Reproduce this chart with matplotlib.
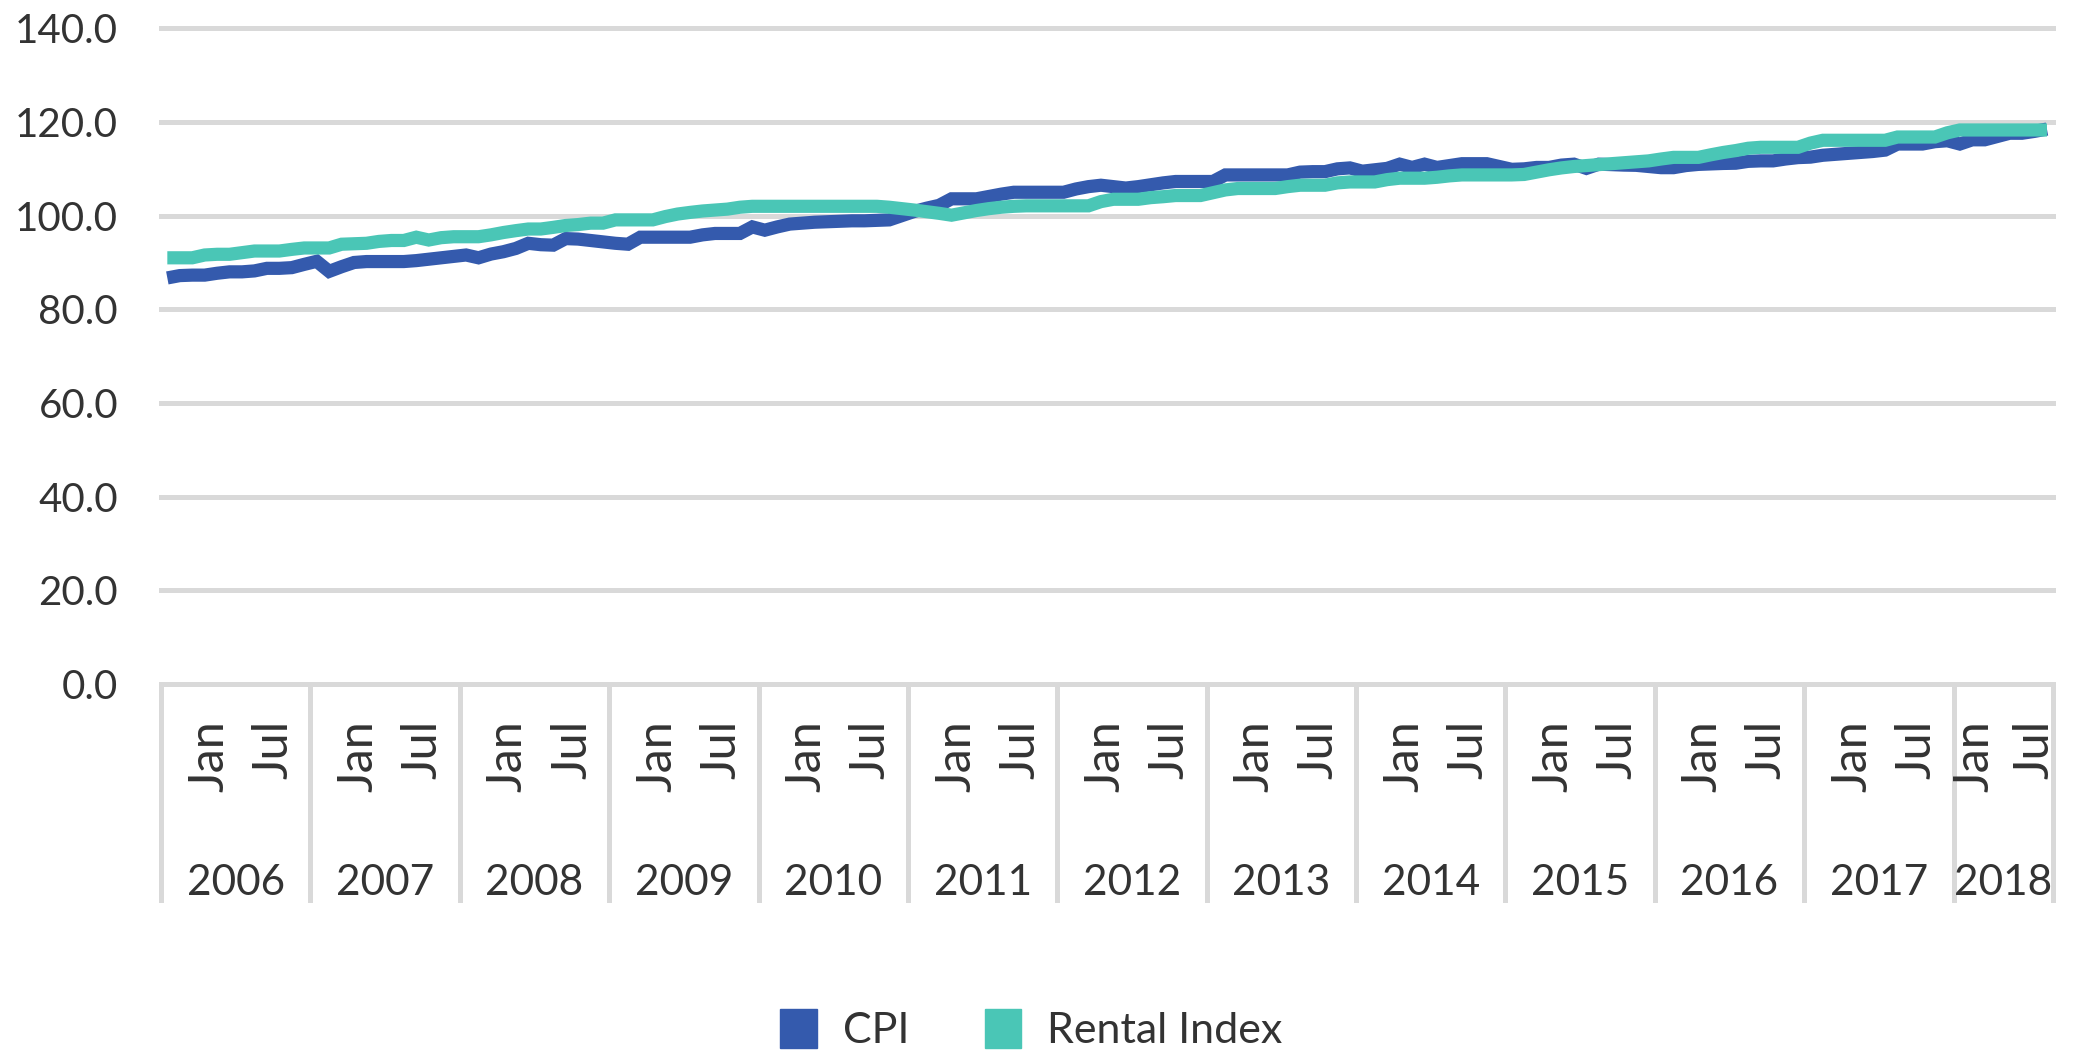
import numpy as np
import matplotlib
matplotlib.use('Agg')
import matplotlib.pyplot as plt
import matplotlib.transforms as mtransforms
from matplotlib.patches import Patch

plt.rcParams['font.family'] = ['Lato', 'DejaVu Sans']

# monthly index values, Jan 2006 .. Aug 2018
years = ['2006', '2007', '2008', '2009', '2010', '2011', '2012',
         '2013', '2014', '2015', '2016', '2017', '2018']
months_per_year = [12] * 12 + [8]

cpi = [
    86.7, 87.2, 87.3, 87.3, 87.7, 88.0, 88.0, 88.2, 88.75, 88.75, 88.9, 89.6,      # 2006
    90.25, 88.1, 89.1, 90.0, 90.2, 90.2, 90.2, 90.2, 90.4, 90.7, 91.0, 91.3,       # 2007
    91.6, 91.0, 91.8, 92.3, 93.0, 94.1, 93.8, 93.7, 95.1, 95.0, 94.7, 94.4,        # 2008
    94.1, 93.9, 95.4, 95.4, 95.4, 95.4, 95.4, 95.9, 96.2, 96.2, 96.2, 97.6,        # 2009
    96.9, 97.6, 98.2, 98.4, 98.6, 98.7, 98.8, 98.9, 98.9, 99.0, 99.1, 100.0,       # 2010
    100.9, 101.6, 102.2, 103.6, 103.6, 103.6, 104.1, 104.6, 105.0, 105.0, 105.0, 105.0,  # 2011
    105.0, 105.7, 106.2, 106.5, 106.2, 105.9, 106.2, 106.6, 107.0, 107.3, 107.3, 107.3,  # 2012
    107.3, 108.7, 108.7, 108.7, 108.7, 108.7, 108.7, 109.3, 109.4, 109.4, 110.0, 110.2,  # 2013
    109.5, 109.8, 110.1, 111.0, 110.3, 111.0, 110.3, 110.7, 111.1, 111.1, 111.1, 110.5,  # 2014
    109.9, 110.0, 110.3, 110.3, 110.8, 111.0, 110.1, 111.0, 110.9, 110.8, 110.75, 110.5,  # 2015
    110.25, 110.25, 110.7, 110.95, 111.05, 111.15, 111.2, 111.6, 111.7, 111.7, 112.1, 112.4,  # 2016
    112.5, 112.9, 113.1, 113.3, 113.5, 113.7, 114.0, 115.3, 115.3, 115.3, 115.8, 116.0,  # 2017
    115.3, 116.2, 116.2, 116.9, 117.6, 117.6, 118.0, 118.5,                        # 2018
]

rental = [
    91.0, 91.0, 91.0, 91.6, 91.75, 91.75, 92.1, 92.45, 92.45, 92.45, 92.8, 93.1,   # 2006
    93.1, 93.1, 93.9, 94.0, 94.1, 94.5, 94.7, 94.7, 95.4, 94.8, 95.3, 95.5,        # 2007
    95.5, 95.5, 95.9, 96.4, 96.8, 97.15, 97.15, 97.5, 97.9, 98.1, 98.4, 98.4,      # 2008
    99.1, 99.1, 99.1, 99.1, 99.8, 100.35, 100.7, 101.0, 101.2, 101.4, 101.8, 102.0,  # 2009
    102.0, 102.0, 102.0, 102.0, 102.0, 102.0, 102.0, 102.0, 102.0, 102.0, 101.8, 101.5,  # 2010
    101.2, 100.85, 100.5, 100.1, 100.6, 101.1, 101.5, 101.8, 102.0, 102.1, 102.1, 102.1,  # 2011
    102.1, 102.1, 102.1, 103.0, 103.5, 103.5, 103.5, 103.85, 104.05, 104.3, 104.3, 104.3,  # 2012
    104.9, 105.5, 105.8, 105.8, 105.8, 105.8, 106.2, 106.5, 106.5, 106.5, 107.0, 107.2,  # 2013
    107.2, 107.2, 107.7, 108.0, 108.0, 108.0, 108.2, 108.5, 108.7, 108.7, 108.7, 108.7,  # 2014
    108.7, 108.8, 109.3, 109.8, 110.2, 110.5, 110.7, 110.9, 111.1, 111.3, 111.5, 111.7,  # 2015
    112.1, 112.45, 112.45, 112.45, 113.0, 113.5, 113.9, 114.4, 114.6, 114.6, 114.6, 114.6,  # 2016
    115.5, 116.1, 116.1, 116.1, 116.1, 116.1, 116.1, 116.8, 116.8, 116.8, 116.8, 117.7,  # 2017
    118.3, 118.3, 118.3, 118.3, 118.3, 118.3, 118.3, 118.3,                        # 2018
]

blue = '#345aad'
green = '#4ac6b6'
grid_col = '#d9d9d9'
txt_col = '#333333'

x = np.arange(len(cpi))

fig = plt.figure(figsize=(20.76, 10.51), dpi=100)
ax = fig.add_axes([0.0776, 0.3493, 0.9114, 0.6237])

ax.plot(x, cpi, color=blue, lw=9.5, solid_joinstyle='miter', solid_capstyle='butt', label='CPI')
ax.plot(x, rental, color=green, lw=9.5, solid_joinstyle='miter', solid_capstyle='butt', label='Rental Index')

ax.set_xlim(-0.5, len(cpi) - 0.5)
ax.set_ylim(0, 140)
ax.set_yticks(np.arange(0, 141, 20))
ax.set_yticklabels(['%.1f' % v for v in np.arange(0, 141, 20)], fontsize=29, color=txt_col)
ax.tick_params(axis='y', length=0, pad=31)
ax.set_xticks([])
ax.grid(axis='y', color=grid_col, lw=3.6)
for gl in ax.get_ygridlines():
    gl.set_clip_on(False)
ax.set_axisbelow(True)
for s in ax.spines.values():
    s.set_visible(False)

# multi-level category axis (month / year)
trans = mtransforms.blended_transform_factory(ax.transData, ax.transAxes)
start = -0.5
bounds = [start]
for yr, n in zip(years, months_per_year):
    end = start + n
    bounds.append(end)
    if n == 12:
        jan_off, jul_off = 3.85, 9.0
    else:
        jan_off, jul_off = 1.7, 6.5
    ax.text(start + jan_off, -0.055, 'Jan', rotation=90, ha='center', va='top',
            transform=trans, fontsize=35, color=txt_col)
    ax.text(start + jul_off, -0.055, 'Jul', rotation=90, ha='center', va='top',
            transform=trans, fontsize=35, color=txt_col)
    ax.text((start + end) / 2, -0.303, yr, ha='center', va='center',
            transform=trans, fontsize=30.5, color=txt_col)
    start = end
for b in bounds:
    ax.plot([b, b], [0, -0.329], transform=trans, clip_on=False, color=grid_col, lw=3.6)

handles = [Patch(color=blue, label='CPI'), Patch(color=green, label='Rental Index')]
fig.legend(handles=handles, loc='center', bbox_to_anchor=(0.4968, 0.02), ncol=2,
           frameon=False, fontsize=31, handlelength=0.85, handleheight=1.0,
           handletextpad=0.6, columnspacing=1.75, labelcolor=txt_col)

fig.savefig('out.png', dpi=100)
